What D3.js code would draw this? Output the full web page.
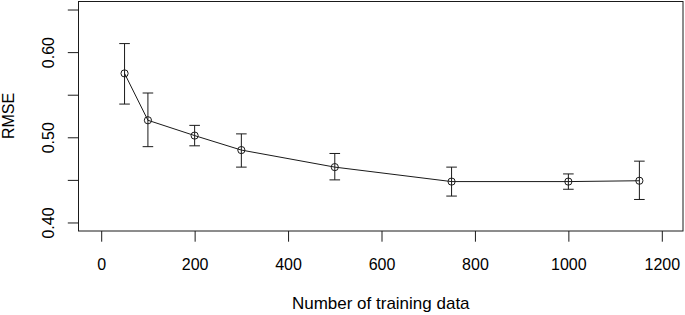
<!DOCTYPE html>
<html>
<head>
<meta charset="utf-8">
<script src="https://cdn.jsdelivr.net/npm/d3@7"></script>
<style>
  html, body { margin: 0; padding: 0; background: #fff; }
  svg { display: block; }
  text { font-family: "Liberation Sans", Arial, Helvetica, sans-serif; fill: #000; }
</style>
</head>
<body>
<script>
// ---- data ----
const trainSize = [50, 100, 200, 300, 500, 750, 1000, 1152];
const rmseMean  = [0.575, 0.520, 0.502, 0.485, 0.465, 0.448, 0.448, 0.449];
const rmseUpper = [0.610, 0.552, 0.514, 0.504, 0.481, 0.465, 0.457, 0.472];
const rmseLower = [0.539, 0.489, 0.490, 0.465, 0.450, 0.431, 0.439, 0.427];
const xTicks = [0, 200, 400, 600, 800, 1000, 1200];
const yTicks = [0.40, 0.45, 0.50, 0.55, 0.60, 0.65];
const yLabeled = [0.40, 0.50, 0.60];
const xTitle = "Number of training data";
const yTitle = "RMSE";

const W = 685, H = 315;
const box = { left: 78.5, right: 683, top: 1, bottom: 231 };

const svg = d3.select("body").append("svg").attr("width", W).attr("height", H);

const x = d3.scaleLinear().domain([0, 1200]).range([101.2, 661.8]);
const y = d3.scaleLinear().domain([0.39, 0.66]).range([box.bottom, box.top]);

const tick = 10.7;
const ink = "#1a1a1a";

// box
svg.append("rect")
  .attr("x", box.left).attr("y", box.top + 0.5)
  .attr("width", box.right - box.left).attr("height", box.bottom - box.top - 0.5)
  .attr("fill", "none").attr("stroke", ink).attr("stroke-width", 1);

// x axis
const gx = svg.append("g").attr("transform", `translate(0,${box.bottom})`)
  .call(d3.axisBottom(x).tickValues(xTicks).tickSize(tick).tickSizeOuter(0).tickFormat(d3.format("d")));
gx.select(".domain").remove();
gx.selectAll(".tick line").attr("stroke", ink);
gx.selectAll(".tick text").attr("y", 38.5).attr("dy", null)
  .style("font-size", "16px").attr("fill", "#000");

// y axis
const gy = svg.append("g").attr("transform", `translate(${box.left},0)`)
  .call(d3.axisLeft(y).tickValues(yTicks).tickSize(tick).tickSizeOuter(0)
    .tickFormat(d => yLabeled.some(v => Math.abs(v - d) < 1e-9) ? d3.format(".2f")(d) : ""));
gy.select(".domain").remove();
gy.selectAll(".tick line").attr("stroke", ink);
gy.selectAll(".tick text")
  .attr("transform", "rotate(-90)")
  .attr("x", 0).attr("y", -25).attr("dy", null)
  .attr("text-anchor", "middle")
  .style("font-size", "16px").attr("fill", "#000");

// titles
svg.append("text")
  .attr("x", (box.left + box.right) / 2).attr("y", 308.5)
  .attr("text-anchor", "middle").style("font-size", "17px").text(xTitle);
svg.append("text")
  .attr("transform", `translate(13.5,${(box.top + box.bottom) / 2}) rotate(-90)`)
  .attr("text-anchor", "middle").style("font-size", "16px").text(yTitle);

const data = trainSize.map((n, i) => ({ n, m: rmseMean[i], hi: rmseUpper[i], lo: rmseLower[i] }));

// connecting line
svg.append("path")
  .datum(data)
  .attr("fill", "none").attr("stroke", ink).attr("stroke-width", 1)
  .attr("d", d3.line().x(d => x(d.n)).y(d => y(d.m)));

// error bars
const cap = 5.3;
const eb = svg.append("g").attr("stroke", ink).attr("stroke-width", 1).attr("fill", "none");
data.forEach(d => {
  eb.append("line").attr("x1", x(d.n)).attr("x2", x(d.n)).attr("y1", y(d.hi)).attr("y2", y(d.lo));
  eb.append("line").attr("x1", x(d.n) - cap).attr("x2", x(d.n) + cap).attr("y1", y(d.hi)).attr("y2", y(d.hi));
  eb.append("line").attr("x1", x(d.n) - cap).attr("x2", x(d.n) + cap).attr("y1", y(d.lo)).attr("y2", y(d.lo));
});

// open circles
svg.append("g").selectAll("circle").data(data).join("circle")
  .attr("cx", d => x(d.n)).attr("cy", d => y(d.m)).attr("r", 3.6)
  .attr("fill", "none").attr("stroke", ink).attr("stroke-width", 1);
</script>
</body>
</html>
